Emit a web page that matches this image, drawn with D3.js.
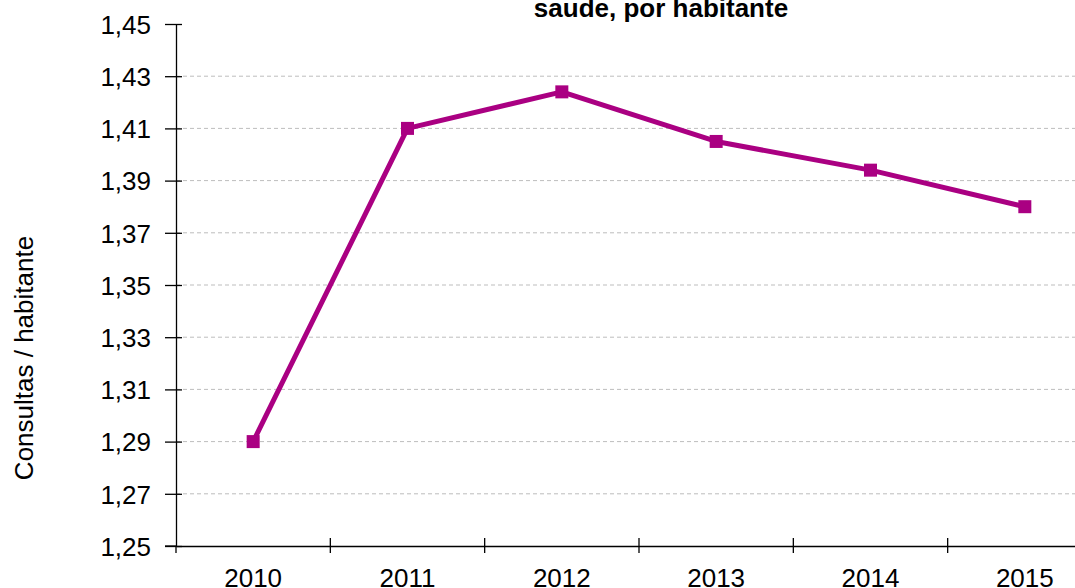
<!DOCTYPE html>
<html>
<head>
<meta charset="utf-8">
<script src="https://d3js.org/d3.v7.min.js"></script>
<style>
  body { margin: 0; background: #fff; }
  text { font-family: "Liberation Sans", Arial, sans-serif; fill: #000; }
</style>
</head>
<body>
<div id="chart"></div>
<script>
var years = ["2010", "2011", "2012", "2013", "2014", "2015"];
var consultas = [1.29, 1.41, 1.424, 1.405, 1.394, 1.38];
var yTicks = [1.25, 1.27, 1.29, 1.31, 1.33, 1.35, 1.37, 1.39, 1.41, 1.43, 1.45];

var svgWidth = 1075;
var svgHeight = 588;

var chartMargin = { top: 24, left: 176 };
var chartWidth = 926;
var chartHeight = 522;

var svg = d3.select("#chart")
  .append("svg")
  .attr("width", svgWidth)
  .attr("height", svgHeight);

var chartGroup = svg.append("g")
  .attr("transform", `translate(${chartMargin.left}, ${chartMargin.top})`);

var xScale = d3.scaleBand()
  .domain(years)
  .range([0, chartWidth]);

var yScale = d3.scaleLinear()
  .domain([1.25, 1.45])
  .range([chartHeight, 0]);

var fmt = d => d.toFixed(2).replace(".", ",");

// gridlines
chartGroup.selectAll(".grid")
  .data(yTicks.filter(t => t > 1.25 && t < 1.45))
  .enter()
  .append("line")
  .attr("x1", 0)
  .attr("x2", chartWidth)
  .attr("y1", d => yScale(d))
  .attr("y2", d => yScale(d))
  .attr("stroke", "#bdbdbd")
  .attr("stroke-width", 1)
  .attr("stroke-dasharray", "4,3");

// y axis
var yAxis = d3.axisLeft(yScale)
  .tickValues(yTicks)
  .tickFormat(fmt)
  .tickSizeInner(11)
  .tickSizeOuter(0)
  .tickPadding(14);

var yG = chartGroup.append("g").call(yAxis);
yG.select(".domain").attr("stroke", "#000").attr("stroke-width", 1.3);
yG.selectAll(".tick line").attr("x2", 6).attr("x1", -11).attr("stroke", "#000").attr("stroke-width", 1.3);
yG.selectAll(".tick text").style("font-size", "26px").attr("font-family", null).attr("dy", "0.36em");

// x axis
var xAxis = d3.axisBottom(xScale).tickSize(0);
var xG = chartGroup.append("g")
  .attr("transform", `translate(0, ${chartHeight})`)
  .call(xAxis);
xG.select(".domain").attr("stroke", "#000").attr("stroke-width", 1.3);
xG.selectAll(".tick text")
  .style("font-size", "26px")
  .attr("font-family", null)
  .attr("y", 41)
  .attr("dy", 0);

// x tick marks at band edges
var edges = years.map(y => xScale(y)).concat([chartWidth]);
xG.selectAll(".edge")
  .data(edges.slice(1))
  .enter()
  .append("line")
  .attr("x1", d => d)
  .attr("x2", d => d)
  .attr("y1", -8)
  .attr("y2", 7)
  .attr("stroke", "#000")
  .attr("stroke-width", 1.3);
xG.append("line")
  .attr("x1", 0).attr("x2", 0).attr("y1", 0).attr("y2", 7)
  .attr("stroke", "#000").attr("stroke-width", 1.3);
xG.append("line")
  .attr("x1", -11).attr("x2", 0).attr("y1", 0).attr("y2", 0)
  .attr("stroke", "#000").attr("stroke-width", 1.3);

var color = "#aa0082";

var line = d3.line()
  .x((d, i) => xScale(years[i]) + xScale.bandwidth() / 2)
  .y(d => yScale(d));

chartGroup.append("path")
  .datum(consultas)
  .attr("d", line)
  .attr("fill", "none")
  .attr("stroke", color)
  .attr("stroke-width", 5)
  .attr("stroke-linejoin", "round");

chartGroup.selectAll(".marker")
  .data(consultas)
  .enter()
  .append("rect")
  .attr("x", (d, i) => xScale(years[i]) + xScale.bandwidth() / 2 - 6.5)
  .attr("y", d => yScale(d) - 6.5)
  .attr("width", 13)
  .attr("height", 13)
  .attr("fill", color);

// title
svg.append("text")
  .attr("x", 661)
  .attr("y", 17)
  .attr("text-anchor", "middle")
  .style("font-size", "26px")
  .style("font-weight", "bold")
  .text("saude, por habitante");

// y label
svg.append("text")
  .attr("transform", "rotate(-90)")
  .attr("x", -358)
  .attr("y", 33)
  .attr("text-anchor", "middle")
  .style("font-size", "26px")
  .text("Consultas / habitante");
</script>
</body>
</html>
